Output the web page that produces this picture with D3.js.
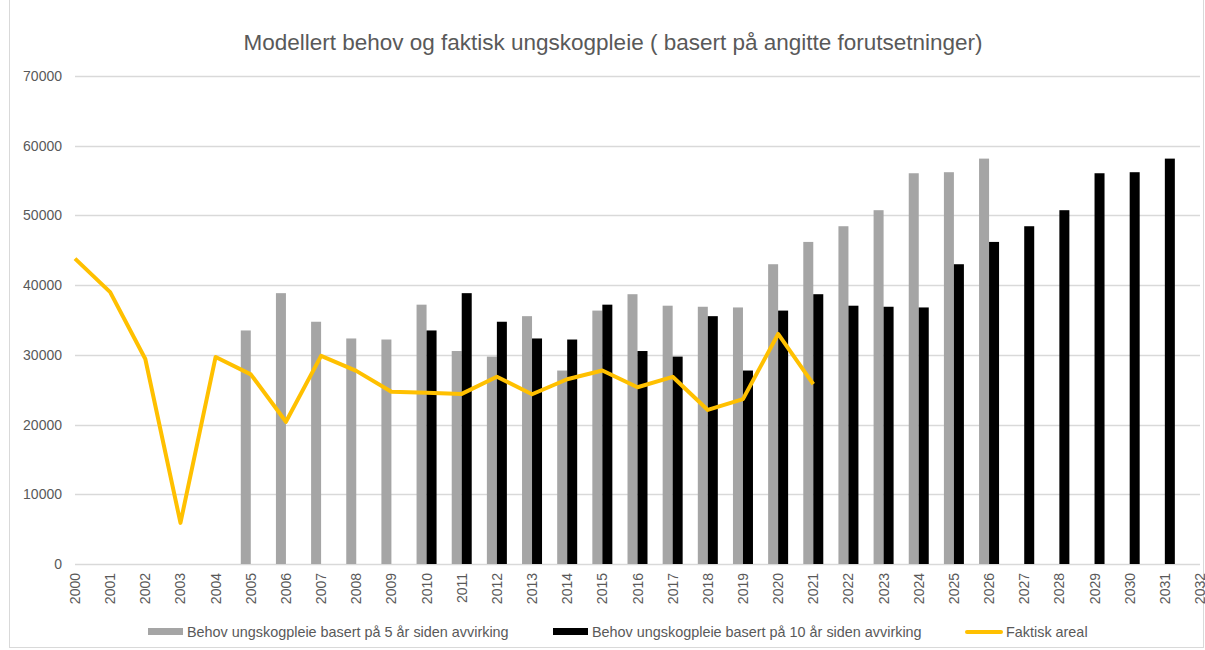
<!DOCTYPE html>
<html>
<head>
<meta charset="utf-8">
<script src="https://cdn.jsdelivr.net/npm/d3@7"></script>
<style>
  body { margin: 0; background: #fff; }
  text { font-family: "Liberation Sans", Arial, sans-serif; fill: #595959; }
</style>
</head>
<body>
<script>
var Gray = "#A5A5A5"
var Black = "#000000"
var Gold = "#FFC000"

// data
var barYears5 = d3.range(2005, 2027);
var behov5 = [33500, 38850, 34750, 32350, 32200, 37200, 30550, 29750, 35550, 27750, 36350,
	38700, 37050, 36900, 36800, 43000, 46200, 48450, 50750, 56050, 56200, 58150];
var barYears10 = d3.range(2010, 2032);
var behov10 = [33500, 38850, 34750, 32350, 32200, 37200, 30550, 29750, 35550, 27750, 36350,
	38700, 37050, 36900, 36800, 43000, 46200, 48450, 50750, 56050, 56200, 58150];
var lineYears = d3.range(2000, 2022);
var faktisk = [43800, 39000, 29400, 5900, 29700, 27200, 20400, 29850, 27700, 24700, 24550,
	24400, 26850, 24350, 26500, 27750, 25350, 26850, 22100, 23650, 33000, 25800];
var yTicks = [0, 10000, 20000, 30000, 40000, 50000, 60000, 70000];
var xTicks = d3.range(2000, 2033);

var title = "Modellert behov og faktisk ungskogpleie ( basert på angitte forutsetninger)";
var legendNames = ["Behov ungskogpleie basert på 5 år siden avvirking",
	"Behov ungskogpleie basert på 10 år siden avvirking", "Faktisk areal"];

var W = 1205, H = 650;
var barW = 10;

var svg = d3.select("body").append("svg")
	.attr("width", W)
	.attr("height", H);

// chart border
svg.append("rect")
	.attr("x", 9.5).attr("y", -1)
	.attr("width", 1194).attr("height", 648.5)
	.attr("fill", "none")
	.attr("stroke", "#d9d9d9")

var x = d3.scaleLinear().domain([2000, 2032]).range([75, 1200]);
var y = d3.scaleLinear().domain([0, 70000]).range([564, 76]);

// gridlines
svg.append("g").selectAll("line").data(yTicks).enter()
	.append("line")
	.attr("x1", 75).attr("x2", 1200)
	.attr("y1", d => Math.round(y(d)) + 0.5)
	.attr("y2", d => Math.round(y(d)) + 0.5)
	.attr("stroke", "#d9d9d9")
	.attr("stroke-width", 1.3)

// y labels
svg.append("g").selectAll("text").data(yTicks).enter()
	.append("text")
	.attr("x", 62)
	.attr("y", d => y(d) + 5)
	.attr("text-anchor", "end")
	.attr("font-size", "14px")
	.text(d => d)

// x labels (2032 is clipped by the right edge, as in the original)
svg.append("g").selectAll("text").data(xTicks).enter()
	.append("text")
	.attr("transform", d => "translate(" + (x(d) + 5) + ",573) rotate(-90)")
	.attr("text-anchor", "end")
	.attr("font-size", "14px")
	.text(d => d)

// bars
svg.append("g").selectAll("rect").data(behov5).enter()
	.append("rect")
	.attr("x", (d, i) => x(barYears5[i]) - barW)
	.attr("y", d => y(d))
	.attr("width", barW)
	.attr("height", d => y(0) - y(d))
	.attr("fill", Gray)

svg.append("g").selectAll("rect").data(behov10).enter()
	.append("rect")
	.attr("x", (d, i) => x(barYears10[i]))
	.attr("y", d => y(d))
	.attr("width", barW)
	.attr("height", d => y(0) - y(d))
	.attr("fill", Black)

// line
var line = d3.line()
	.x((d, i) => x(lineYears[i]))
	.y(d => y(d));

svg.append("path")
	.datum(faktisk)
	.attr("d", line)
	.attr("fill", "none")
	.attr("stroke", Gold)
	.attr("stroke-width", 4)
	.attr("stroke-linejoin", "round")

// title
svg.append("text")
	.attr("x", 613)
	.attr("y", 50)
	.attr("text-anchor", "middle")
	.attr("font-size", "22.5px")
	.text(title)

// legend
var leg = svg.append("g");
leg.append("rect").attr("x", 148).attr("y", 628).attr("width", 35).attr("height", 7).attr("fill", Gray)
leg.append("text").attr("x", 187).attr("y", 637).attr("font-size", "14.4px").text(legendNames[0])
leg.append("rect").attr("x", 553).attr("y", 628).attr("width", 35).attr("height", 7).attr("fill", Black)
leg.append("text").attr("x", 592).attr("y", 637).attr("font-size", "14.4px").text(legendNames[1])
leg.append("line").attr("x1", 967).attr("x2", 1001).attr("y1", 632).attr("y2", 632)
	.attr("stroke", Gold).attr("stroke-width", 4).attr("stroke-linecap", "round")
leg.append("text").attr("x", 1006).attr("y", 637).attr("font-size", "14.4px").text(legendNames[2])
</script>
</body>
</html>
